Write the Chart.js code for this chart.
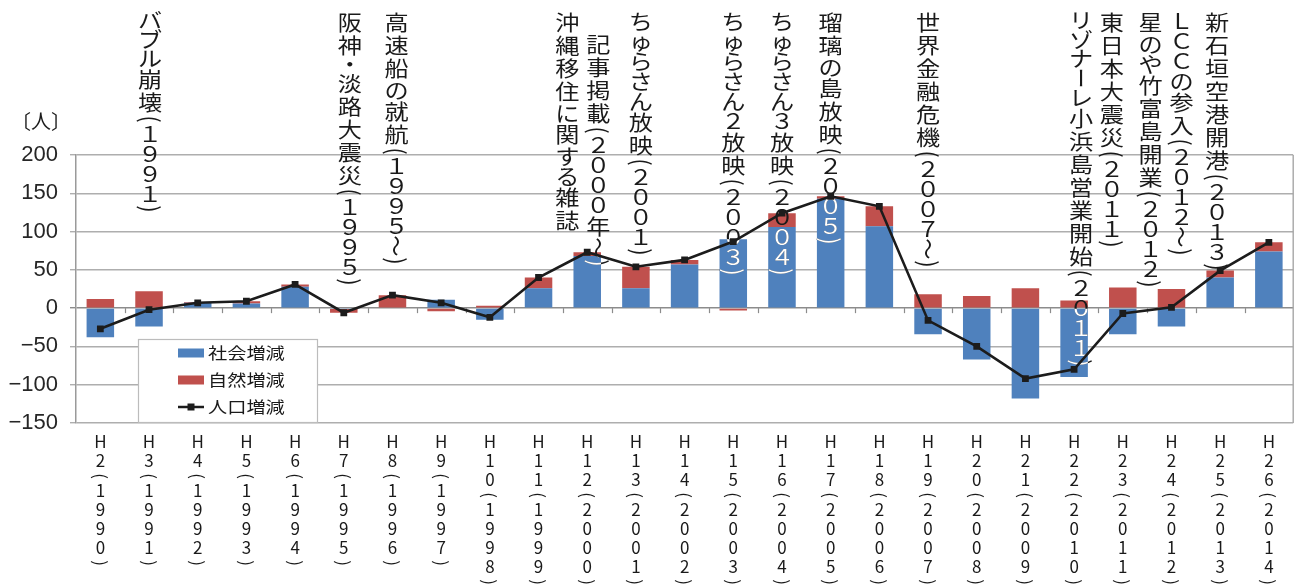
<!DOCTYPE html>
<html lang="ja">
<head>
<meta charset="utf-8">
<script src="https://cdn.jsdelivr.net/npm/chart.js@4.4.1/dist/chart.umd.min.js"></script>
<style>
  html, body { margin: 0; padding: 0; background: #fff; }
  canvas { display: block; }
</style>
</head>
<body>
<canvas id="myChart" width="1298" height="588"></canvas>
<script>
// 年次 (x軸)
const categories = ['H2(1990)', 'H3(1991)', 'H4(1992)', 'H5(1993)', 'H6(1994)', 'H7(1995)', 'H8(1996)',
    'H9(1997)', 'H10(1998)', 'H11(1999)', 'H12(2000)', 'H13(2001)', 'H14(2002)', 'H15(2003)',
    'H16(2004)', 'H17(2005)', 'H18(2006)', 'H19(2007)', 'H20(2008)', 'H21(2009)', 'H22(2010)',
    'H23(2011)', 'H24(2012)', 'H25(2013)', 'H26(2014)'];

const socialChange = [-38, -24, 7, 6, 28, -1, 1, 11, -15, 26, 68, 26, 57, 90, 106, 143, 107, -34, -67, -118, -90, -34, -24, 40, 74];
const naturalChange = [12, 22, 1, 3, 3, -5, 16, -4, 3, 14, 5, 28, 6, -3, 18, 3, 26, 18, 16, 26, 10, 27, 25, 9, 12];
const populationChange = [-27, -2, 7, 9, 31, -6, 17, 7, -12, 40, 73, 54, 63, 87, 124, 146, 133, -16, -50, -92, -80, -7, 1, 49, 86];

const yTicks = [-150, -100, -50, 0, 50, 100, 150, 200];

// 出来事の注記
const eventLabels = ['バブル崩壊（１９９１）', '阪神・淡路大震災（１９９５）', '高速船の就航（１９９５〜）',
    '沖縄移住に関する雑誌', '記事掲載（２０００年〜）', 'ちゅらさん放映（２００１）',
    'ちゅらさん２放映（２００３）', 'ちゅらさん３放映（２００４）', '瑠璃の島放映（２００５）',
    '世界金融危機（２００７〜）', 'リゾナーレ小浜島営業開始（２０１１）', '東日本大震災（２０１１）',
    '星のや竹富島開業（２０１２）', 'ＬＣＣの参入（２０１２〜）', '新石垣空港開港（２０１３）'];
const eventCategory = ['H3(1991)', 'H7(1995)', 'H8(1996)', 'H12(2000)', 'H12(2000)', 'H13(2001)',
    'H15(2003)', 'H16(2004)', 'H17(2005)', 'H19(2007)', 'H22(2010)', 'H23(2011)',
    'H24(2012)', 'H24(2012)', 'H25(2013)'];

// layout only: horizontal nudge from the category centre, and extra top offset
const eventDx = [1, 6, 4, -20, 11, 5, 0, 0, 0, 0, 7, -11, -21, 10, -3];
const eventDy = [0, 0, 0, 0, 22, 0, 0, 0, 0, 0, 0, 0, 0, 0, 0];

const BLUE = '#4F81BD';
const RED = '#C0504D';
const CJK = '"Noto Sans CJK JP", "Noto Sans CJK SC", sans-serif';
const ROTATED = '（）()〜～ー';

function charAdvance(ch, kind) {
    if ('()（）'.includes(ch)) return kind === 'axis' ? 11 : 10;
    if (kind === 'axis') return 19;
    if (ch === '・') return 15;
    if ('ー〜～'.includes(ch)) return 20;
    if (/[\u4e00-\u9fff]/.test(ch)) return 23;
    if (/[\u30a0-\u30ff]/.test(ch)) return 19;
    return 20;
}

function drawVertical(ctx, text, cx, top, kind, stretch) {
    let y = top;
    for (const ch of text) {
        const adv = charAdvance(ch, kind);
        ctx.save();
        ctx.translate(cx, y + adv / 2);
        ctx.scale(stretch, 1);
        if (ROTATED.includes(ch)) ctx.rotate(Math.PI / 2);
        const glyph = ch === '（' ? '(' : ch === '）' ? ')' : ch;
        ctx.fillText(glyph, 0, 0);
        ctx.restore();
        y += adv;
    }
}

function drawEvents(chart, color) {
    const ctx = chart.ctx;
    const xs = chart.scales.x;
    ctx.save();
    ctx.fillStyle = color;
    ctx.font = '21px ' + CJK;
    ctx.textAlign = 'center';
    ctx.textBaseline = 'middle';
    eventLabels.forEach((txt, i) => {
        const cx = xs.getPixelForValue(categories.indexOf(eventCategory[i])) + eventDx[i];
        drawVertical(ctx, txt, cx, 11 + eventDy[i], 'event', 1.15);
    });
    ctx.restore();
}

const decorations = {
    id: 'decorations',
    beforeDatasetsDraw(chart) {
        const { ctx, chartArea } = chart;
        const ys = chart.scales.y;
        const y0 = ys.getPixelForValue(0);
        ctx.save();
        ctx.strokeStyle = '#a6a6a6';
        ctx.lineWidth = 1.4;
        ctx.beginPath();
        ctx.moveTo(chartArea.right, chartArea.top);
        ctx.lineTo(chartArea.right, chartArea.bottom);
        ctx.stroke();
        // category ticks on the zero line
        ctx.strokeStyle = '#8c8c8c';
        ctx.lineWidth = 1.2;
        const step = (chartArea.right - chartArea.left) / categories.length;
        for (let i = 1; i < categories.length; i++) {
            const x = Math.round(chartArea.left + step * i) + 0.5;
            ctx.beginPath();
            ctx.moveTo(x, y0);
            ctx.lineTo(x, y0 + 5);
            ctx.stroke();
        }
        ctx.restore();
    },
    afterDatasetDraw(chart, args) {
        if (args.index !== 0) return;
        drawEvents(chart, '#1a1a1a');
        // text sitting on the blue bars shows white
        const ctx = chart.ctx;
        ctx.save();
        ctx.beginPath();
        args.meta.data.forEach(bar => {
            const p = bar.getProps(['x', 'y', 'base', 'width'], true);
            ctx.rect(p.x - p.width / 2, Math.min(p.y, p.base), p.width, Math.abs(p.base - p.y));
        });
        ctx.clip();
        drawEvents(chart, '#fff');
        ctx.restore();
    },
    afterDraw(chart) {
        const { ctx } = chart;
        const xs = chart.scales.x;
        ctx.save();
        ctx.fillStyle = '#1a1a1a';
        ctx.textAlign = 'center';
        ctx.textBaseline = 'middle';

        // unit label
        ctx.font = '20px ' + CJK;
        ctx.fillText('〔人〕', 41, 121);

        // vertical category labels
        ctx.font = '17px ' + CJK;
        categories.forEach((c, i) => {
            drawVertical(ctx, c, xs.getPixelForValue(i), 432.5, 'axis', 1);
        });

        // legend box
        const lx = 138, ly = 339, lw = 179, lh = 83;
        ctx.fillStyle = '#fff';
        ctx.fillRect(lx, ly, lw, lh);
        ctx.strokeStyle = '#bcbcbc';
        ctx.lineWidth = 1.2;
        ctx.strokeRect(lx + 0.5, ly + 0.5, lw, lh);
        const ds = chart.data.datasets;
        const rows = [353, 380, 407];
        ctx.font = '16px ' + CJK;
        ctx.textAlign = 'left';
        ds.forEach((d, i) => {
            const ry = rows[i];
            if (d.type === 'line') {
                ctx.strokeStyle = d.borderColor;
                ctx.lineWidth = 2.5;
                ctx.beginPath();
                ctx.moveTo(178, ry);
                ctx.lineTo(204, ry);
                ctx.stroke();
                ctx.fillStyle = d.borderColor;
                ctx.fillRect(187.5, ry - 3.5, 7, 7);
            } else {
                ctx.fillStyle = d.backgroundColor;
                ctx.fillRect(178, ry - 4.5, 26, 9);
            }
            ctx.fillStyle = '#1a1a1a';
            ctx.save();
            ctx.translate(208, ry);
            ctx.scale(1.2, 1);
            ctx.fillText(d.label, 0, 0);
            ctx.restore();
        });
        ctx.restore();
    }
};

const ctx = document.getElementById('myChart');

window.populationChart = new Chart(ctx, {
    data: {
        labels: categories,
        datasets: [{
            type: 'bar',
            label: '社会増減',
            data: socialChange,
            backgroundColor: BLUE,
            stack: 'change',
            order: 1,
            barPercentage: 0.565,
            categoryPercentage: 1
        }, {
            type: 'bar',
            label: '自然増減',
            data: naturalChange,
            backgroundColor: RED,
            stack: 'change',
            order: 2,
            barPercentage: 0.565,
            categoryPercentage: 1
        }, {
            type: 'line',
            label: '人口増減',
            data: populationChange,
            borderColor: '#1c1c1c',
            backgroundColor: '#1c1c1c',
            borderWidth: 2.6,
            pointStyle: 'rect',
            pointRadius: 4.8,
            pointBorderWidth: 0,
            tension: 0,
            stack: 'total',
            order: 0
        }]
    },
    options: {
        responsive: false,
        animation: false,
        devicePixelRatio: 1,
        layout: { padding: { top: 155, bottom: 165, left: 0, right: 1 } },
        plugins: {
            legend: { display: false },
            tooltip: { enabled: false },
            title: { display: false }
        },
        scales: {
            x: {
                display: false,
                stacked: true
            },
            y: {
                stacked: true,
                min: yTicks[0],
                max: yTicks[yTicks.length - 1],
                afterFit(scale) { scale.width = 76; },
                afterBuildTicks(scale) { scale.ticks = yTicks.map(v => ({ value: v })); },
                ticks: {
                    padding: 12,
                    color: '#262626',
                    font: { family: '"Liberation Sans", Arial, sans-serif', size: 22 },
                    callback: v => String(v).replace('-', '−')
                },
                grid: {
                    color: c => (c.tick && c.tick.value === 0) ? '#8c8c8c' : '#aeaeae',
                    lineWidth: 1.4,
                    tickLength: 6,
                    drawTicks: true
                },
                border: { color: '#9a9a9a', width: 1.5 }
            }
        }
    },
    plugins: [decorations]
});
</script>
</body>
</html>
